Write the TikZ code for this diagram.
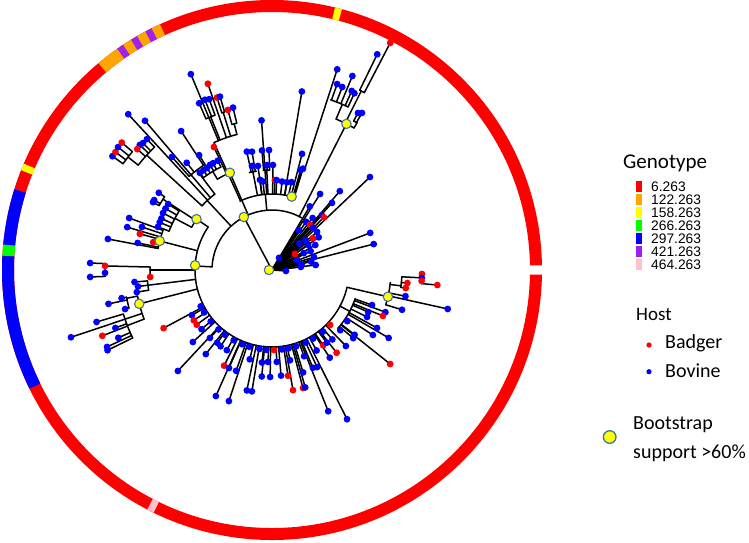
\documentclass[tikz,border=0pt]{standalone}
\usepackage{fontspec}
\newfontfamily\calfont{Carlito}
\newfontfamily\arifont{Liberation Sans}
\pgfdeclarelayer{dots}\pgfdeclarelayer{top}
\pgfsetlayers{main,dots,top}
\definecolor{cR}{HTML}{FF0000}
\definecolor{cB}{HTML}{0000FF}
\definecolor{cY}{HTML}{FFFF00}
\definecolor{cO}{HTML}{FFA500}
\definecolor{cP}{HTML}{A020F0}
\definecolor{cG}{HTML}{00FF00}
\definecolor{cPk}{HTML}{FFC0CB}
\definecolor{ynedge}{HTML}{41719C}
\newcommand\tSg[3]{\draw[br] (#1:#2pt) -- (#1:#3pt);}
\newcommand\tAc[3]{\draw[br] (#2:#1pt) arc[start angle=#2,end angle=#3,radius=#1pt];}
\newcommand\tDt[3]{\begin{pgfonlayer}{dots}\fill[#3] (#1:#2pt) circle[radius=3.4pt];\end{pgfonlayer}}
\newcommand\tLf[4]{\tSg{#1}{#2}{#3}\tDt{#1}{#3}{#4}}
\newcommand\tYn[2]{\begin{pgfonlayer}{top}\filldraw[yn] (#1:#2pt) circle[radius=4.7pt];\end{pgfonlayer}}
\begin{document}
\begin{tikzpicture}[x=1pt,y=1pt,
  br/.style={line width=1.5pt,line cap=round,black},
  yn/.style={fill=cY,draw=ynedge,line width=1.1pt},
  legtxt/.style={inner sep=0pt,font=\calfont\fontsize{20}{20}\selectfont},
  numtxt/.style={inner sep=0pt,anchor=west,font=\arifont\fontsize{13.8}{13.8}\selectfont}]
\useasboundingbox (-272,-272) rectangle (477,270);
% ---------------- ring ----------------
\fill[cR] (1:258pt) arc[start angle=1,end angle=359,radius=258pt] -- (359:270pt) arc[start angle=359,end angle=1,radius=270pt] -- cycle;
\foreach \aa/\bb/\cc in {75/76.5/cY,114.5/116.5/cO,116.5/118/cP,118/120/cO,120/121.5/cP,121.5/123.5/cO,123.5/125/cP,125/130/cO,156.8/158.3/cY,162.6/174.6/cB,174.6/177/cG,177/206.1/cB,242.5/244/cPk}
  {\fill[\cc] (\aa:258pt) arc[start angle=\aa,end angle=\bb,radius=258pt] -- (\bb:270pt) arc[start angle=\bb,end angle=\aa,radius=270pt] -- cycle;}
% ---------------- tree ----------------
\tYn{180}{3}
% fan from root
\foreach \ang/\rad/\col in {43.5/135/cB,14.3/105/cB,20.7/105/cB,49.3/104/cB,48.2/90/cB,57.7/90/cB,59.3/74/cB,47.7/74/cB,45.5/74/cR,54.7/59/cB,49.8/59/cR,45.7/59/cB,40.2/59/cB,35/57/cB,42/45/cB,34.8/44/cB,26/43/cB,17/44/cB,6.5/44/cB,6/29/cB,22/27/cB,35/28/cR,60/14/cB,356/14/cB,30/50/cB,38/52/cR,12/40/cB,52/66/cB,56/48/cB,28/36/cB,10/30/cB,44/38/cB}
  {\tLf{\ang}{0}{\rad}{\col}}
% N1
\tSg{118}{0}{60}\tAc{60}{60.5}{177}\tYn{118}{60}
% clade A
\tSg{63}{60}{164}\tAc{164}{60}{67}
\tSg{67}{164}{180}\tAc{180}{65}{71}
\tLf{65}{180}{195}{cB}\tLf{66}{180}{196}{cB}\tLf{69}{180}{196}{cB}\tLf{70.7}{180}{197}{cB}\tLf{67.5}{180}{210}{cB}
\tSg{63.5}{164}{200}\tAc{200}{62.5}{64}\tLf{64}{200}{240}{cB}\tLf{62.5}{200}{256}{cR}
\tSg{60}{164}{170}\tAc{170}{60}{61.3}\tLf{60.2}{170}{181}{cB}\tLf{61.3}{170}{179}{cB}
\tYn{63}{164}
% M arc
\tSg{95}{60}{76}\tAc{76}{72}{115}
\tLf{80.5}{76}{181}{cB}\tLf{75.5}{76}{120}{cB}
\tSg{73.5}{76}{104}\tAc{104}{72.5}{74}\tLf{72}{104}{211}{cB}\tLf{74}{76}{104}{cB}\tLf{73}{76}{106}{cB}
\tYn{75}{76}
\tLf{94}{76}{150}{cB}
\tSg{101}{76}{100}\tAc{100}{99}{103}\tLf{102}{100}{121}{cB}\tLf{99.6}{100}{120}{cB}\tLf{100.9}{100}{106}{cB}
\tLf{97.7}{76}{105}{cB}\tLf{97.6}{76}{91}{cB}\tLf{95.8}{76}{89}{cB}
\tSg{93}{76}{100}\tAc{100}{91.4}{95}\tLf{94.8}{100}{120}{cB}\tLf{91.4}{100}{120}{cB}\tLf{92.7}{100}{105}{cB}
\tLf{89.5}{76}{105}{cB}\tLf{88.2}{76}{90}{cR}\tLf{87}{76}{90}{cB}\tLf{83.5}{76}{89}{cB}\tLf{80.3}{76}{89}{cB}\tLf{77.5}{76}{90}{cB}
% NW clade
\tSg{114.5}{76}{140}\tAc{140}{104.5}{114.5}
\tLf{112.5}{140}{212}{cB}
\tSg{111.8}{140}{165}\tAc{165}{110.2}{113.6}\tLf{113.6}{165}{182}{cB}\tLf{111.5}{165}{183}{cB}\tLf{110.2}{165}{182}{cB}
\tLf{109}{140}{197}{cR}
\tSg{107.2}{140}{165}\tAc{165}{106.7}{107.7}\tLf{107.7}{165}{181}{cR}\tLf{106.7}{165}{181}{cB}
\tSg{104.5}{140}{151}\tAc{151}{103.5}{105.4}\tLf{105.4}{151}{166}{cR}\tLf{103.5}{151}{167}{cB}
% Y113
\tSg{113.4}{60}{106}\tAc{106}{113.4}{121}
\tSg{121}{106}{115}\tAc{115}{116.4}{126.6}
\tLf{116.4}{115}{122}{cB}\tLf{118.9}{115}{122}{cB}\tLf{120.5}{115}{122}{cB}\tLf{122.5}{115}{121}{cB}\tLf{124.5}{115}{121}{cB}\tLf{126.6}{115}{121}{cB}
\tLf{115.3}{106}{136}{cR}
\tYn{113.4}{106}
% P
\tSg{133}{60}{95}\tAc{95}{127}{137.5}
\tLf{132.7}{95}{212}{cB}\tLf{130.4}{95}{196}{cB}
\tSg{137.5}{95}{170}\tAc{170}{133.7}{141.9}
\tLf{133.7}{170}{181}{cB}\tLf{135.5}{170}{181}{cB}\tLf{136.6}{170}{182}{cB}\tLf{138.1}{170}{181}{cR}
\tSg{141.9}{170}{183}\tAc{183}{139.7}{144.5}\tLf{144.5}{183}{196}{cB}\tLf{143}{183}{196}{cR}\tLf{141.4}{183}{197}{cB}\tLf{139.7}{183}{197}{cR}
\tSg{127}{95}{125}\tAc{125}{122.4}{131.5}
\tLf{122.4}{125}{136}{cB}\tLf{128.5}{125}{137}{cB}\tLf{131.5}{125}{151}{cB}\tLf{123.2}{125}{166}{cB}
% B
\tSg{177}{60}{77}\tAc{77}{146}{347}
% Y145
\tSg{146}{77}{91}\tAc{91}{146}{152}
\tSg{147}{91}{130}\tAc{130}{145.7}{150.3}\tLf{145.7}{130}{137}{cB}\tLf{149.3}{130}{137}{cB}\tLf{150.3}{130}{137}{cB}
\tSg{152}{91}{110}\tAc{110}{147.6}{159.3}
\tLf{147.6}{110}{123}{cB}\tLf{150}{110}{123}{cB}\tLf{152.4}{110}{123}{cB}\tLf{155}{110}{122}{cB}\tLf{157}{110}{122}{cB}\tLf{159.3}{110}{122}{cB}
\tYn{146}{91}
% Y165
\tSg{165.5}{77}{116}\tAc{116}{160}{169.3}
\tLf{160}{116}{152}{cB}\tLf{163.5}{116}{151}{cB}\tLf{161.7}{116}{137}{cB}\tLf{164.7}{116}{137}{cR}\tLf{169.3}{116}{167}{cB}\tLf{166.8}{116}{122}{cR}\tLf{168.6}{116}{137}{cB}
\tYn{165.5}{116}
% H
\tSg{180}{77}{122}\tAc{122}{178.6}{183.3}\tDt{183.3}{122}{cR}
\tSg{178.6}{122}{167}\tAc{167}{177.8}{182.2}\tDt{178.6}{167}{cR}\tLf{177.8}{167}{182}{cB}\tDt{181}{167}{cB}\tLf{182.2}{167}{182}{cB}
\tSg{187}{77}{125}\tAc{125}{185}{189.3}\tLf{185}{125}{138}{cB}\tLf{189.3}{125}{137}{cB}\tLf{187}{125}{135}{cB}
% Y194
\tSg{194.3}{77}{137}\tAc{137}{191}{201}
\tSg{191}{137}{148}\tAc{148}{190.6}{194.9}\tLf{190.6}{148}{153}{cB}\tLf{191.7}{148}{167}{cB}\tLf{194.9}{148}{152}{cB}
\tLf{198.5}{137}{212}{cB}
\tSg{201}{137}{155}\tAc{155}{196.5}{206}
\tLf{196.5}{155}{183}{cB}\tLf{200.3}{155}{167}{cB}\tLf{201.2}{155}{182}{cR}\tLf{203.8}{155}{168}{cB}\tLf{205}{155}{182}{cB}\tLf{206}{155}{183}{cB}
\tYn{194.3}{137}
\tYn{176.5}{77}
% bottom
\foreach \ang/\rad/\col in {208.2/123/cR,209.4/92/cB,212.7/93/cR,216/93/cR,220/92/cB,222.3/107/cB,227/138/cB,227.6/92/cB,231.8/107/cB,233/91/cB,236/92/cB,240.6/92/cB,243.4/107/cR,246/138/cB,246.3/107/cB,250.4/107/cB,251.8/138/cB,256/92/cB,258.2/123/cB,260.6/123/cB,263.8/93/cB,264.5/107/cB,267.5/92/cB,269/107/cB,273/92/cB,274.9/106/cB,278.6/107/cR,279.9/122/cR,281.3/92/cB,284.7/122/cR,285.8/122/cB,286.9/107/cB,290.4/92/cB,291.7/152/cB,292.7/106/cB,294.9/107/cB,296.7/167/cB,299/92/cB,304.2/91/cR,303.4/105/cB,307/91/cB,308/105/cR,311/92/cB,314.2/106/cB}
  {\tLf{\ang}{77}{\rad}{\col}}
\foreach \ang/\col in {207/cB,212/cB,220/cB,228/cB,234/cB,241.4/cB,248/cB,253.6/cB,261/cB,266/cB,271.5/cR,277/cB,282/cB,287.5/cB,295/cB,301/cB,309.6/cB,316.6/cR}
  {\tDt{\ang}{80}{\col}}
% right cluster
\tSg{332}{77}{88}\tAc{88}{318.6}{341}
\foreach \ang/\rad/\col in {340.7/106/cB,336.4/105/cB,333.7/106/cB,339.6/121/cB,337.5/120/cR,331.1/120/cB,327.2/120/cB,329.8/135/cB,321.5/151/cR,320/106/cB,321.9/105/cB,318.6/91/cB,325.8/91/cB}
  {\tLf{\ang}{88}{\rad}{\col}}
% Y347
\tSg{347}{77}{119}\tAc{119}{343}{354}
\tLf{347.5}{119}{180}{cB}\tLf{343}{119}{136}{cB}\tLf{348.9}{119}{136}{cB}
\tSg{353}{119}{130}\tAc{130}{352.3}{357}\tLf{352.3}{130}{135}{cR}\tLf{354.5}{130}{136}{cR}
\tSg{357}{130}{150}\tAc{150}{354.8}{358.5}\tDt{358.5}{150}{cR}\tDt{357}{150}{cB}\tDt{355.8}{150}{cR}\tLf{354.8}{150}{166}{cR}
\tYn{347}{119}
% ---------------- legend ----------------
\node[anchor=base west,inner sep=0pt,font=\calfont\fontsize{21}{21}\selectfont] (gtitle) at (351,102) {Genotype};
\foreach \k/\col/\lab in {0/cR/6.263,1/cO/122.263,2/cY/158.263,3/cG/266.263,4/cB/297.263,5/cP/421.263,6/cPk/464.263}{
  \fill[\col] (364,{83.3-12.97*\k-5.75}) rectangle (370,{83.3-12.97*\k+5.75});
  \node[numtxt] (g\k) at (379,{83.3-12.97*\k}) {\lab};
}
\node[legtxt,anchor=base west,font=\calfont\fontsize{19}{19}\selectfont] (host) at (364,-50.7) {Host};
\fill[cR] (377,-75) circle[radius=2.6pt];
\node[legtxt,anchor=base west] (badger) at (393,-78.3) {Badger};
\fill[cB] (377,-101.7) circle[radius=2.6pt];
\node[legtxt,anchor=base west] (bovine) at (393,-107.3) {Bovine};
\filldraw[fill=cY,draw=ynedge,line width=1.3pt] (337.7,-167) circle[radius=6.3pt];
\node[legtxt,anchor=base west] (boot) at (361,-159.3) {Bootstrap};
\node[legtxt,anchor=base west] (supp) at (361,-188) {support >60\%};
\end{tikzpicture}
\end{document}
